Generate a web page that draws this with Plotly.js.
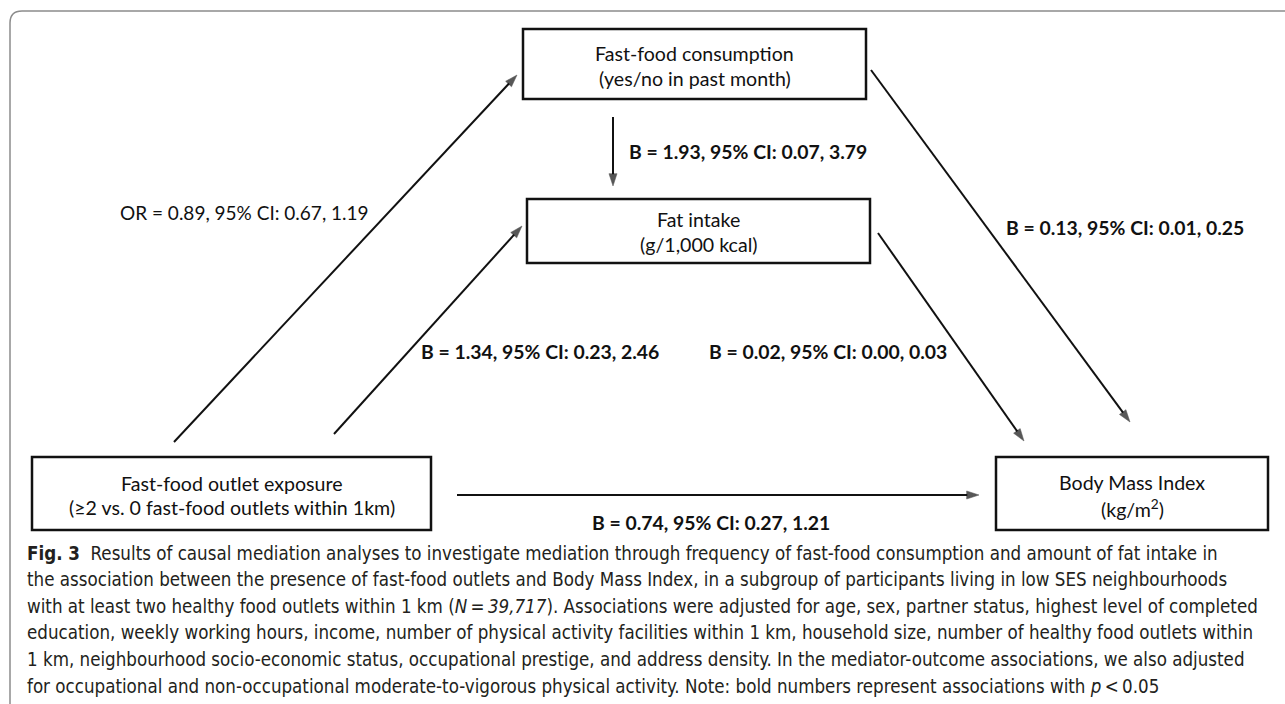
<!DOCTYPE html>
<html>
<head>
<meta charset="utf-8">
<script src="https://cdn.plot.ly/plotly-3.0.1.min.js"></script>
<style>
  html, body { margin: 0; padding: 0; background: #ffffff; }
  #chart { width: 1285px; height: 704px; }
</style>
</head>
<body>
<div id="chart"></div>
<script>
// ---------- DATA ----------
const nodeTitles = ['Fast-food outlet exposure', 'Fast-food consumption', 'Fat intake', 'Body Mass Index'];
const nodeSubtitles = ['(≥2 vs. 0 fast-food outlets within 1km)', '(yes/no in past month)', '(g/1,000 kcal)', '(kg/m<sup>2</sup>)'];

const pathFrom = [0, 0, 1, 1, 2, 0];
const pathTo   = [1, 2, 2, 3, 3, 3];
const measure  = ['OR', 'B', 'B', 'B', 'B', 'B'];
const estimate = [0.89, 1.34, 1.93, 0.13, 0.02, 0.74];
const ciLower  = [0.67, 0.23, 0.07, 0.01, 0.00, 0.27];
const ciUpper  = [1.19, 2.46, 3.79, 0.25, 0.03, 1.21];
const significant = [false, true, true, true, true, true];

const captionLines = [
  '<b>Fig. 3</b>  Results of causal mediation analyses to investigate mediation through frequency of fast-food consumption and amount of fat intake in',
  'the association between the presence of fast-food outlets and Body Mass Index, in a subgroup of participants living in low SES neighbourhoods',
  'with at least two healthy food outlets within 1 km (<i>N</i>\u2009=\u2009<i>39,717</i>). Associations were adjusted for age, sex, partner status, highest level of completed',
  'education, weekly working hours, income, number of physical activity facilities within 1 km, household size, number of healthy food outlets within',
  '1 km, neighbourhood socio-economic status, occupational prestige, and address density. In the mediator-outcome associations, we also adjusted',
  'for occupational and non-occupational moderate-to-vigorous physical activity. Note: bold numbers represent associations with <i>p</i>\u2009<\u20090.05'
];

// ---------- LAYOUT GEOMETRY (pixels, y downward) ----------
const W = 1285, H = 704;
const boxes = [
  {x0: 32,  y0: 457, x1: 431,  y1: 530, l1: 483, l2: 507},
  {x0: 523, y0: 29,  x1: 866,  y1: 99,  l1: 53,  l2: 78},
  {x0: 527, y0: 199, x1: 870,  y1: 263, l1: 219, l2: 244},
  {x0: 996, y0: 457, x1: 1268, y1: 530, l1: 482, l2: 508}
];
// arrow geometry per path (tail -> head)
const arrows = [
  {tx: 174, ty: 442, hx: 517, hy: 75},
  {tx: 334, ty: 434, hx: 522, hy: 226},
  {tx: 613, ty: 117, hx: 613, hy: 186},
  {tx: 871, ty: 70,  hx: 1130, hy: 422},
  {tx: 878, ty: 233, hx: 1024, hy: 441},
  {tx: 457, ty: 495, hx: 979, hy: 495}
];
const labelPos = [
  {x: 244,   y: 212},
  {x: 540,   y: 351},
  {x: 747.5, y: 151},
  {x: 1124.5,y: 227},
  {x: 828,   y: 351},
  {x: 710.5, y: 522}
];

const diagFont = 'Lato, "Open Sans", sans-serif';
const capFont = '"DejaVu Sans Condensed", "DejaVu Sans", sans-serif';
const ink = '#111111';

const shapes = [];
const annotations = [];
const traces = [];

// outer frame (top and left edges, rounded corner)
shapes.push({
  type: 'path', xref: 'x', yref: 'y',
  path: 'M 10 704 L 10 23 Q 10 11 22 11 L 1290 11',
  line: {color: '#8c8c8c', width: 1.5}
});

// boxes + texts
nodeTitles.forEach((t, i) => {
  const b = boxes[i];
  shapes.push({type: 'rect', xref: 'x', yref: 'y', x0: b.x0, x1: b.x1, y0: b.y0, y1: b.y1,
               line: {color: ink, width: 2.5}, fillcolor: 'rgba(0,0,0,0)'});
  const cx = (b.x0 + b.x1) / 2;
  annotations.push({x: cx, y: b.l1, xref: 'x', yref: 'y', text: t, showarrow: false,
                    xanchor: 'center', yanchor: 'middle', font: {family: diagFont, size: 19.6, color: ink}});
  annotations.push({x: cx, y: b.l2, xref: 'x', yref: 'y', text: nodeSubtitles[i], showarrow: false,
                    xanchor: 'center', yanchor: 'middle', font: {family: diagFont, size: 19.6, color: ink}});
});

// arrows (line + arrowhead marker) + labels
pathFrom.forEach((f, i) => {
  const a = arrows[i];
  traces.push({
    type: 'scatter', mode: 'lines+markers',
    x: [a.tx, a.hx], y: [a.ty, a.hy],
    line: {color: ink, width: 2},
    marker: {symbol: ['circle', 'arrow'], size: [0, 13], angleref: 'previous',
             color: ink, line: {width: 0.5, color: ink}},
    hoverinfo: 'skip', showlegend: false, cliponaxis: false
  });
  let txt = measure[i] + ' = ' + estimate[i].toFixed(2) + ', 95% CI: ' + ciLower[i].toFixed(2) + ', ' + ciUpper[i].toFixed(2);
  if (significant[i]) txt = '<b>' + txt + '</b>';
  const p = labelPos[i];
  annotations.push({x: p.x, y: p.y, xref: 'x', yref: 'y', text: txt, showarrow: false,
                    xanchor: 'center', yanchor: 'middle',
                    font: {family: diagFont, size: significant[i] ? 19.4 : 19, color: ink}});
});

// caption
captionLines.forEach((line, i) => {
  annotations.push({x: 25, y: 553 + i * 26.6, xref: 'x', yref: 'y', text: line, showarrow: false,
                    xanchor: 'left', yanchor: 'middle', align: 'left',
                    font: {family: capFont, size: 18.6, color: '#231f20'}});
});

const layout = {
  width: W, height: H,
  margin: {l: 0, r: 0, t: 0, b: 0, pad: 0},
  paper_bgcolor: '#ffffff', plot_bgcolor: '#ffffff',
  xaxis: {range: [0, W], visible: false, fixedrange: true},
  yaxis: {range: [H, 0], visible: false, fixedrange: true},
  showlegend: false,
  shapes: shapes,
  annotations: annotations
};

Plotly.newPlot('chart', traces, layout, {displayModeBar: false, staticPlot: true});
</script>
</body>
</html>
